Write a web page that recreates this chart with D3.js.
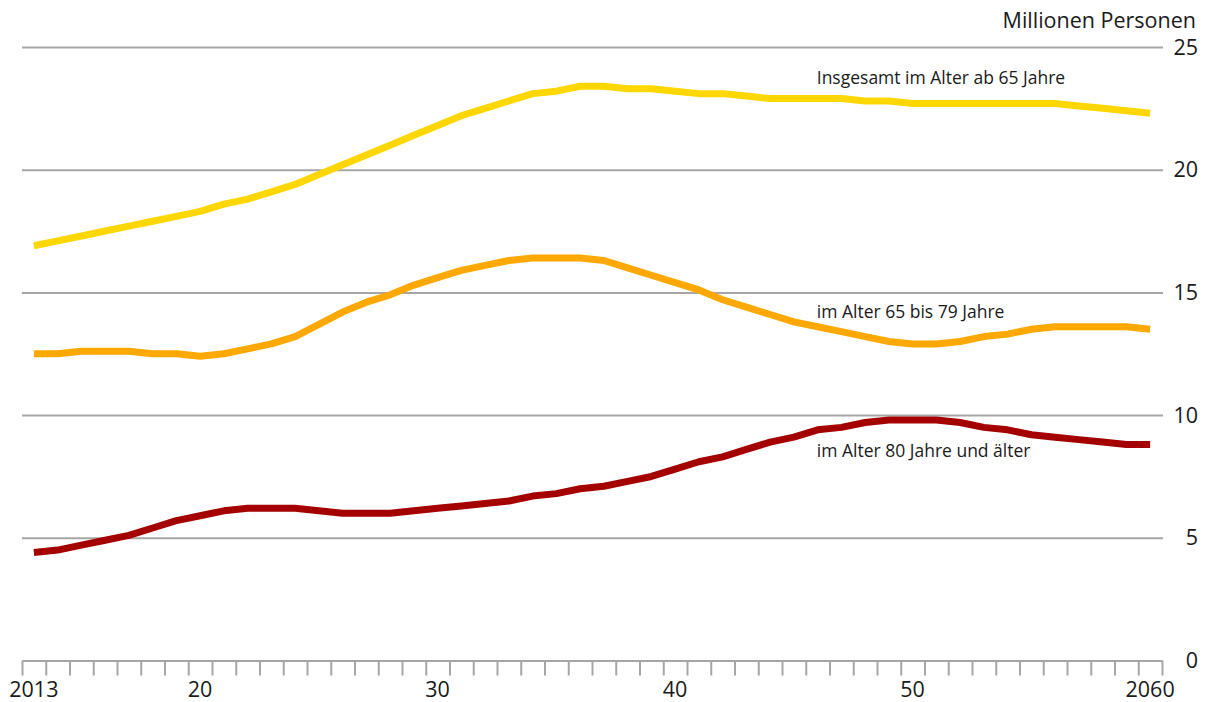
<!DOCTYPE html>
<html lang="de">
<head>
<meta charset="utf-8">
<script src="https://cdn.jsdelivr.net/npm/d3@7"></script>
<style>
  html, body { margin: 0; padding: 0; background: #fff; }
  svg { display: block; font-family: "Open Sans", "Noto Sans", sans-serif; }
  .lbl { fill: #1a1a1a; }
</style>
</head>
<body>
<svg id="chart" width="1205" height="702"></svg>
<script>
// Bevölkerung im Alter ab 65 Jahren, 2013 bis 2060 (Millionen Personen)
const years = d3.range(2013, 2061);

const insgesamt = [
  16.9, 17.1, 17.3, 17.5, 17.7, 17.9, 18.1, 18.3, 18.6, 18.8,
  19.1, 19.4, 19.8, 20.2, 20.6, 21.0, 21.4, 21.8, 22.2, 22.5,
  22.8, 23.1, 23.2, 23.4, 23.4, 23.3, 23.3, 23.2, 23.1, 23.1,
  23.0, 22.9, 22.9, 22.9, 22.9, 22.8, 22.8, 22.7, 22.7, 22.7,
  22.7, 22.7, 22.7, 22.7, 22.6, 22.5, 22.4, 22.3
];

const alter65bis79 = [
  12.5, 12.5, 12.6, 12.6, 12.6, 12.5, 12.5, 12.4, 12.5, 12.7,
  12.9, 13.2, 13.7, 14.2, 14.6, 14.9, 15.3, 15.6, 15.9, 16.1,
  16.3, 16.4, 16.4, 16.4, 16.3, 16.0, 15.7, 15.4, 15.1, 14.7,
  14.4, 14.1, 13.8, 13.6, 13.4, 13.2, 13.0, 12.9, 12.9, 13.0,
  13.2, 13.3, 13.5, 13.6, 13.6, 13.6, 13.6, 13.5
];

const alter80plus = [
  4.4, 4.5, 4.7, 4.9, 5.1, 5.4, 5.7, 5.9, 6.1, 6.2,
  6.2, 6.2, 6.1, 6.0, 6.0, 6.0, 6.1, 6.2, 6.3, 6.4,
  6.5, 6.7, 6.8, 7.0, 7.1, 7.3, 7.5, 7.8, 8.1, 8.3,
  8.6, 8.9, 9.1, 9.4, 9.5, 9.7, 9.8, 9.8, 9.8, 9.7,
  9.5, 9.4, 9.2, 9.1, 9.0, 8.9, 8.8, 8.8
];

const seriesNames = [
  "Insgesamt im Alter ab 65 Jahre",
  "im Alter 65 bis 79 Jahre",
  "im Alter 80 Jahre und älter"
];
const seriesColors = ["#ffd700", "#ffa800", "#a50000"];

const yTicks = [0, 5, 10, 15, 20, 25];
const xLabelYears = [2013, 2020, 2030, 2040, 2050, 2060];
const xLabelText = ["2013", "20", "30", "40", "50", "2060"];
const unitLabel = "Millionen Personen";

const svg = d3.select("#chart");

const plotLeft = 22, plotRight = 1162, plotTop = 47, plotBottom = 660.5;

// one band per year, data points sit in the middle of each band
const x = d3.scaleBand().domain(years).range([plotLeft, plotRight]).padding(0);
// boundary scale for the year tick marks between bands
const xEdge = d3.scaleLinear().domain([2012.5, 2060.5]).range([plotLeft, plotRight]);
const y = d3.scaleLinear().domain([0, 25]).range([plotBottom, plotTop]);

// horizontal grid lines
const yAxis = d3.axisRight(y)
  .tickValues(yTicks.filter(v => v > 0))
  .tickSize(plotRight - plotLeft + 1)
  .tickFormat("");
svg.append("g")
  .attr("transform", `translate(${plotLeft},0)`)
  .call(yAxis)
  .call(g => g.select(".domain").remove())
  .call(g => g.selectAll(".tick line").attr("stroke", "#a6a6a6").attr("stroke-width", 2));

// value labels on the right
svg.append("g")
  .selectAll("text")
  .data(yTicks)
  .join("text")
  .attr("class", "lbl")
  .attr("x", 1198)
  .attr("y", d => y(d))
  .attr("dy", "0.35em")
  .attr("text-anchor", "end")
  .attr("font-size", 21.5)
  .text(d => d);

svg.append("text")
  .attr("class", "lbl")
  .attr("x", 1196)
  .attr("y", 28)
  .attr("text-anchor", "end")
  .attr("font-size", 21.5)
  .text(unitLabel);

// x axis: baseline with a tick at every year boundary
const xAxis = d3.axisBottom(xEdge)
  .tickValues(d3.range(2012.5, 2061, 1))
  .tickSize(15)
  .tickSizeOuter(0)
  .tickFormat("");
svg.append("g")
  .attr("transform", `translate(0,${plotBottom})`)
  .call(xAxis)
  .call(g => g.select(".domain").attr("stroke", "#a6a6a6").attr("stroke-width", 2))
  .call(g => g.selectAll(".tick line").attr("stroke", "#a6a6a6").attr("stroke-width", 2));

// year labels centred under their bands
const labelAxis = d3.axisBottom(x)
  .tickValues(xLabelYears)
  .tickSize(0)
  .tickPadding(0)
  .tickFormat(d => xLabelText[xLabelYears.indexOf(d)]);
svg.append("g")
  .attr("transform", `translate(0,${plotBottom})`)
  .call(labelAxis)
  .call(g => g.select(".domain").remove())
  .call(g => g.selectAll(".tick text")
    .attr("y", 36)
    .attr("dy", 0)
    .attr("fill", "#1a1a1a")
    .attr("font-size", 21.5)
    .attr("font-family", "'Open Sans', 'Noto Sans', sans-serif"));

// lines
const line = d3.line()
  .x((d, i) => x(years[i]) + x.bandwidth() / 2)
  .y(d => y(d));

const allSeries = [insgesamt, alter65bis79, alter80plus];
svg.append("g")
  .selectAll("path")
  .data(allSeries)
  .join("path")
  .attr("fill", "none")
  .attr("stroke", (d, i) => seriesColors[i])
  .attr("stroke-width", 7)
  .attr("stroke-linejoin", "round")
  .attr("d", line);

// series labels
const labelPos = [
  { year: 2046, value: 23.5 },
  { year: 2046, value: 13.95 },
  { year: 2046, value: 8.3 }
];
svg.append("g")
  .selectAll("text")
  .data(seriesNames)
  .join("text")
  .attr("class", "lbl")
  .attr("x", (d, i) => x(labelPos[i].year) + 11)
  .attr("y", (d, i) => y(labelPos[i].value))
  .attr("font-size", 17.5)
  .text(d => d);
</script>
</body>
</html>
